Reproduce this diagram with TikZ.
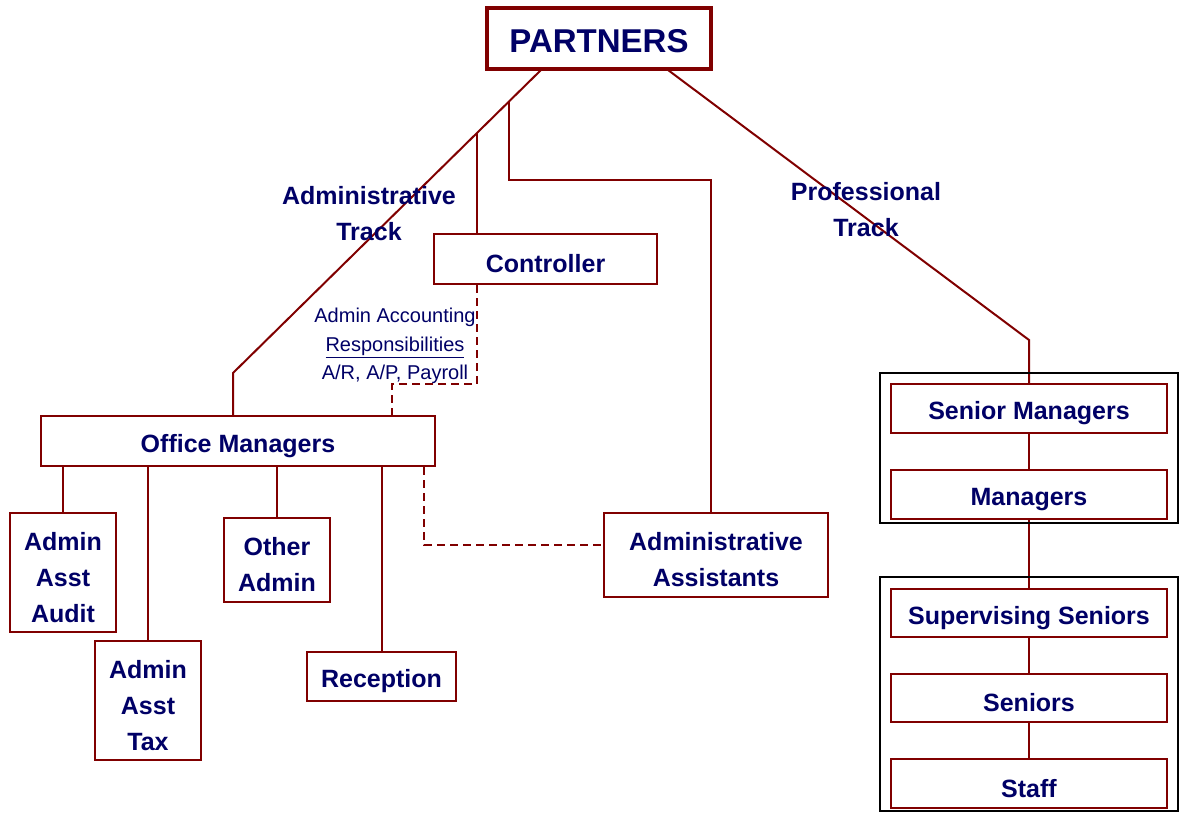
\documentclass[tikz,border=0pt]{standalone}
\usepackage{fontspec}
\setmainfont{Liberation Sans}
\usetikzlibrary{backgrounds}
\definecolor{navy}{RGB}{0,0,102}
\definecolor{maroon}{RGB}{128,0,0}
\newcommand{\tallrow}{\rule{0pt}{28pt}}
\begin{document}
\begin{tikzpicture}[x=1pt,y=-1pt,
 box/.style={draw=maroon,line width=2pt,fill=white,inner sep=0pt,align=center,text=navy,font=\fontsize{25}{36}\selectfont\bfseries,execute at begin node={\tallrow}},
 groupbox/.style={draw=black,line width=2pt,inner sep=0pt},
 conn/.style={draw=maroon,line width=2pt},
 dashconn/.style={conn,dash pattern=on 8pt off 5pt},
 lbl/.style={text=navy,align=center,font=\fontsize{25}{36}\selectfont\bfseries},
 note/.style={text=navy,align=center,font=\fontsize{20}{28.5}\selectfont}]
\useasboundingbox (0,0) rectangle (1181,813);

% group frames
\node[groupbox,minimum width=298pt,minimum height=150pt] (grp1) at (1029,448) {};
\node[groupbox,minimum width=298pt,minimum height=234pt] (grp2) at (1029,694) {};

% boxes
\node[box,line width=3.5pt,minimum width=224pt,minimum height=61pt,font=\fontsize{33}{36}\selectfont\bfseries] (partners) at (599,38.5) {PARTNERS};
\node[box,minimum width=223pt,minimum height=50pt] (controller) at (545.5,259) {Controller};
\node[box,minimum width=394pt,minimum height=50pt] (officemgr) at (238,441) {Office Managers};
\node[box,minimum width=106pt,minimum height=119pt] (audit) at (63,572.5) {\tallrow Admin\\Asst\\Audit};
\node[box,minimum width=106pt,minimum height=119pt] (tax) at (148,700.5) {\tallrow Admin\\Asst\\Tax};
\node[box,minimum width=106pt,minimum height=84pt] (other) at (277,560) {\tallrow Other\\Admin};
\node[box,minimum width=149pt,minimum height=49pt] (reception) at (381.5,676.5) {Reception};
\node[box,minimum width=224pt,minimum height=84pt] (adminasst) at (716,555) {\tallrow Administrative\\Assistants};
\node[box,minimum width=276pt,minimum height=49pt] (senior) at (1029,408.5) {Senior Managers};
\node[box,minimum width=276pt,minimum height=49pt] (managers) at (1029,494.5) {Managers};
\node[box,minimum width=276pt,minimum height=48pt] (supsen) at (1029,613) {Supervising Seniors};
\node[box,minimum width=276pt,minimum height=48pt] (seniors) at (1029,698) {Seniors};
\node[box,minimum width=276pt,minimum height=49pt] (staff) at (1029,783.5) {Staff};

% labels
\node[lbl] (admintrack) at (369,214) {Administrative\\Track};
\node[lbl] (proftrack) at (866,210) {Professional\\Track};
\node[note] (acct) at (395,346) {Admin Accounting\\\underline{Responsibilities}\\A/R, A/P, Payroll};

% connector coordinates
\coordinate (pl) at (541,70);
\coordinate (bendL) at (233,373);
\coordinate (jc) at (477,133);
\coordinate (ja) at (509,101.5);
\coordinate (ja2) at (509,180);
\coordinate (ja3) at (711,180);
\coordinate (pr) at (668,70);
\coordinate (bendR) at (1029,340);
\coordinate (d1) at (477,384);
\coordinate (d2) at (392,384);
\coordinate (d3) at (424,545);

\begin{scope}[on background layer]
\draw[conn] (pl) -- (bendL) -- (bendL |- officemgr.north);
\draw[conn] (jc) -- (jc |- controller.north);
\draw[conn] (ja) -- (ja2) -- (ja3) -- (ja3 |- adminasst.north);
\draw[conn] (pr) -- (bendR) -- (senior.north);
\draw[dashconn] (controller.south -| d1) -- (d1) -- (d2) -- (d2 |- officemgr.north);
\draw[dashconn] (officemgr.south -| d3) -- (d3) -- (adminasst.west |- d3);
\draw[conn] (officemgr.south -| audit.north) -- (audit.north);
\draw[conn] (officemgr.south -| tax.north) -- (tax.north);
\draw[conn] (officemgr.south -| other.north) -- (other.north);
\draw[conn] (officemgr.south -| reception.north) -- (reception.north);
\draw[conn] (senior.south) -- (managers.north);
\draw[conn] (managers.south) -- (supsen.north);
\draw[conn] (supsen.south) -- (seniors.north);
\draw[conn] (seniors.south) -- (staff.north);
\end{scope}
\end{tikzpicture}
\end{document}
